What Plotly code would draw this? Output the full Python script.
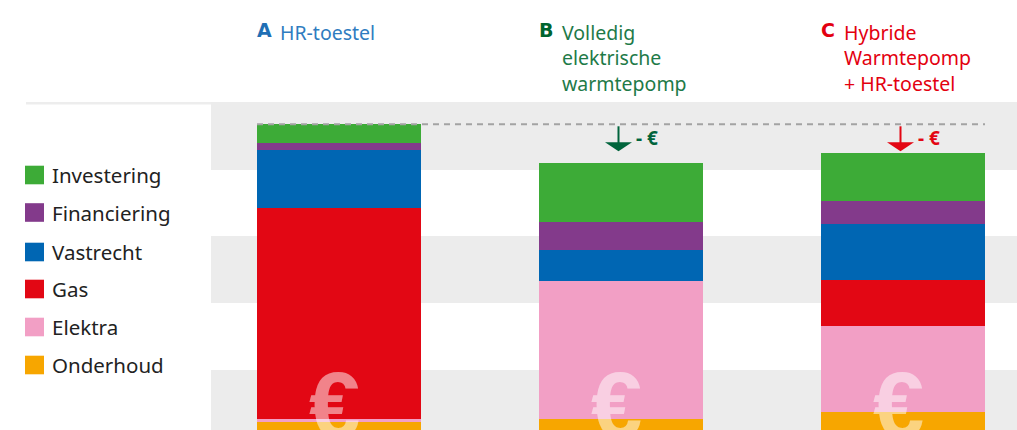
import plotly.graph_objects as go

# ---------------- data ----------------
categories = ["A", "B", "C"]
title_letters = ["A", "B", "C"]
title_texts = ["HR-toestel", "Volledig<br>elektrische<br>warmtepomp", "Hybride<br>Warmtepomp<br>+ HR-toestel"]

series_names = ["Onderhoud", "Elektra", "Gas", "Vastrecht", "Financiering", "Investering"]
onderhoud = [8.3, 11.0, 18.0]
elektra = [2.7, 138.0, 86.0]
gas = [211.3, 0.0, 46.3]
vastrecht = [58.0, 31.0, 56.0]
financiering = [6.7, 28.0, 22.7]
investering = [18.7, 59.3, 48.3]

series_values = [onderhoud, elektra, gas, vastrecht, financiering, investering]
series_colors = ["#f7a600", "#f29fc5", "#e20714", "#0066b3", "#833a8b", "#3dab37"]
title_colors = ["#2f7cc0", "#1e7a48", "#e3000f"]
letter_colors = ["#1f6fb5", "#00642f", "#e3000f"]
arrow_colors = {1: "#00643c", 2: "#e30613"}

# ---------------- geometry helpers ----------------
W, H = 1017, 430
X0_PX, STEP_PX = 339.0, 282.0
BAR_W = 164 / STEP_PX
xs = list(range(len(categories)))


def px_to_x(px):
    return (px - X0_PX) / STEP_PX


def py(pix):  # pixel row -> y data
    return H - pix


fig = go.Figure()
for name, vals, col in zip(series_names, series_values, series_colors):
    fig.add_trace(go.Bar(x=xs, y=vals, name=name, width=BAR_W,
                         marker=dict(color=col, line=dict(width=0)),
                         showlegend=False, hoverinfo="skip"))

shapes = []
# background bands
for top, bot in [(102, 170), (236, 303), (370, 430)]:
    shapes.append(dict(type="rect", xref="paper", yref="y", x0=211 / W, x1=1,
                       y0=py(bot), y1=py(top), fillcolor="#ececec", line=dict(width=0), layer="below"))
shapes.append(dict(type="rect", xref="paper", yref="y", x0=26 / W, x1=211 / W,
                   y0=py(104.5), y1=py(102), fillcolor="#ededed", line=dict(width=0), layer="below"))

totals = [sum(v[i] for v in series_values) for i in xs]
ref_total = totals[0]
# dashed reference line
shapes.append(dict(type="line", xref="x", yref="y", x0=xs[0] - BAR_W / 2, x1=xs[-1] + BAR_W / 2,
                   y0=ref_total, y1=ref_total, line=dict(color="#a3a3a3", width=2, dash="6px,5px")))

annotations = []
# arrows
for i, col in arrow_colors.items():
    ax = i - 2.5 / STEP_PX
    hw = 13.5 / STEP_PX
    shapes.append(dict(type="line", xref="x", yref="y", x0=ax, x1=ax, y0=ref_total - 2, y1=ref_total - 20,
                       line=dict(color=col, width=2)))
    shapes.append(dict(type="path", xref="x", yref="y",
                       path=f"M {ax - hw},{ref_total - 18} L {ax + hw},{ref_total - 18} L {ax},{ref_total - 27} Z",
                       fillcolor=col, line=dict(width=0)))
    annotations.append(dict(x=ax + 15 / STEP_PX, y=ref_total - 14, xref="x", yref="y", text="<b>- €</b>",
                            showarrow=False, xanchor="left", yanchor="middle",
                            font=dict(family="Noto Sans", size=19, color=col)))

# euro watermarks
for i in xs:
    annotations.append(dict(x=i - 5 / STEP_PX, y=py(405), xref="x", yref="y", text="<b>€</b>",
                            showarrow=False, xanchor="center", yanchor="middle",
                            font=dict(family="Liberation Sans", size=92, color="rgba(255,255,255,0.5)")))

# titles
for i in xs:
    left = i - BAR_W / 2
    annotations.append(dict(x=left - 2 / STEP_PX, y=1 - 17 / H, xref="x", yref="paper", text=f"<b>{title_letters[i]}</b>",
                            showarrow=False, xanchor="left", yanchor="top",
                            font=dict(family="DejaVu Sans", size=19, color=letter_colors[i])))
    annotations.append(dict(x=left + 21 / STEP_PX, y=1 - 17 / H, xref="x", yref="paper", text=title_texts[i],
                            showarrow=False, xanchor="left", yanchor="top", align="left",
                            font=dict(family="Noto Sans", size=19.5, color=title_colors[i])))

# manual legend (top to bottom)
leg_centers = [175, 212.5, 252, 289, 327, 365]
for k, (name, col) in enumerate(zip(series_names[::-1], series_colors[::-1])):
    c = leg_centers[k]
    shapes.append(dict(type="rect", xref="paper", yref="y", x0=25 / W, x1=44 / W,
                       y0=py(c + 9.3), y1=py(c - 9.3), fillcolor=col, line=dict(width=0)))
    annotations.append(dict(x=50 / W, y=py(c), xref="paper", yref="y", text=name, showarrow=False,
                            xanchor="left", yanchor="middle",
                            font=dict(family="Noto Sans", size=20.5, color="#222222")))

fig.update_layout(
    width=W, height=H, margin=dict(l=0, r=0, t=0, b=0),
    barmode="stack", bargap=0,
    paper_bgcolor="white", plot_bgcolor="white",
    xaxis=dict(range=[px_to_x(0), px_to_x(W)], visible=False, fixedrange=True),
    yaxis=dict(range=[0, H], visible=False, fixedrange=True),
    shapes=shapes, annotations=annotations,
)
fig.write_html("out.html", config={"displayModeBar": False},
               post_script="document.body.style.margin='0';document.body.style.overflow='hidden';")
